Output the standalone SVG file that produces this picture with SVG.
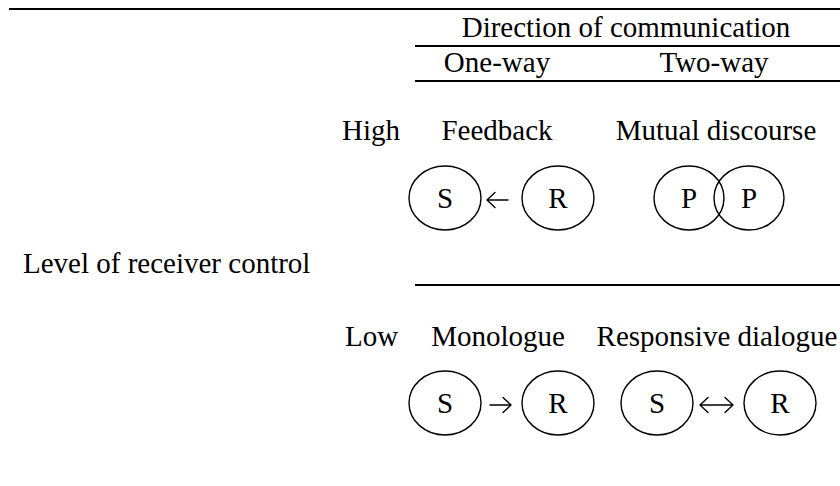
<svg xmlns="http://www.w3.org/2000/svg" width="840" height="486" viewBox="0 0 840 486">
  <style>
    text { font-family: "Liberation Serif", "Times New Roman", serif; font-size: 29px; fill: #000; }
    .c { text-anchor: middle; }
    .rule { stroke: #000; stroke-width: 2; fill: none; }
    .node ellipse { fill: none; stroke: #000; stroke-width: 1.4; }
    .arrow { fill: none; stroke: #000; stroke-width: 1.4; stroke-linecap: round; stroke-linejoin: round; }
  </style>

  <!-- table rules -->
  <g id="rules">
    <line class="rule" x1="9" y1="9" x2="840" y2="9"/>
    <line class="rule" x1="415" y1="46" x2="840" y2="46"/>
    <line class="rule" x1="415" y1="81" x2="840" y2="81"/>
    <line class="rule" x1="415" y1="285" x2="840" y2="285"/>
  </g>

  <!-- headings -->
  <g id="headings">
    <text class="c" x="626" y="37">Direction of communication</text>
    <text class="c" x="497" y="72">One-way</text>
    <text class="c" x="714" y="72">Two-way</text>
    <text x="23" y="273">Level of receiver control</text>
    <text x="342" y="140">High</text>
    <text x="345" y="346">Low</text>
    <text class="c" x="497" y="140">Feedback</text>
    <text class="c" x="716" y="140">Mutual discourse</text>
    <text class="c" x="498" y="346">Monologue</text>
    <text class="c" x="717" y="346">Responsive dialogue</text>
  </g>

  <!-- feedback: S <- R -->
  <g id="fb-s" class="node"><ellipse cx="445" cy="198" rx="36" ry="32"/><text class="c" x="445" y="208">S</text></g>
  <g id="fb-r" class="node"><ellipse cx="558" cy="198" rx="36" ry="32"/><text class="c" x="558" y="208">R</text></g>

  <!-- mutual discourse: overlapping P P -->
  <g id="md-p1" class="node"><ellipse cx="689" cy="198" rx="35" ry="32"/><text class="c" x="689" y="208">P</text></g>
  <g id="md-p2" class="node"><ellipse cx="749" cy="198" rx="35" ry="32"/><text class="c" x="749" y="208">P</text></g>

  <!-- monologue: S -> R -->
  <g id="mo-s" class="node"><ellipse cx="445" cy="403" rx="36" ry="32"/><text class="c" x="445" y="413">S</text></g>
  <g id="mo-r" class="node"><ellipse cx="558" cy="403" rx="36" ry="32"/><text class="c" x="558" y="413">R</text></g>

  <!-- responsive dialogue: S <-> R -->
  <g id="rd-s" class="node"><ellipse cx="657" cy="403" rx="36" ry="32"/><text class="c" x="657" y="413">S</text></g>
  <g id="rd-r" class="node"><ellipse cx="780" cy="403" rx="36" ry="32"/><text class="c" x="780" y="413">R</text></g>

  <!-- connectors -->
  <g id="connectors">
    <path class="arrow" d="M508 200 H487 M495 192.5 L487 200 L495 207.5"/>
    <path class="arrow" d="M490 405 H511 M503 397.5 L511 405 L503 412.5"/>
    <path class="arrow" d="M700 405 H733 M708 397.5 L700 405 L708 412.5 M725 397.5 L733 405 L725 412.5"/>
  </g>
</svg>
